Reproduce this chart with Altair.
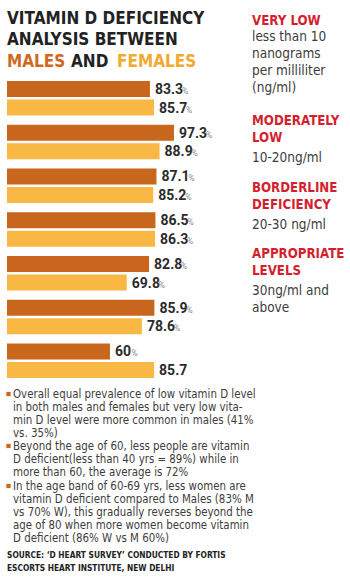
import altair as alt
import pandas as pd

# ---- data ----
groups = ["Overall", "Under 40", "40-49", "50-59", "60-69", "70-79", "80+"]
male_values = [83.3, 97.3, 87.1, 86.5, 82.8, 85.9, 60.0]
female_values = [85.7, 88.9, 85.2, 86.3, 69.8, 78.6, 85.7]
male_labels = ["83.3", "97.3", "87.1", "86.5", "82.8", "85.9", "60"]
female_labels = ["85.7", "88.9", "85.2", "86.3", "69.8", "78.6", "85.7"]
male_pct = [True, True, True, True, True, True, True]
female_pct = [True, True, True, True, True, True, False]
sexes = ["Males", "Females"]

title_lines = ["VITAMIN D DEFICIENCY", "ANALYSIS BETWEEN"]
title_parts = ["MALES", "AND", "FEMALES"]

legend_heads = ["VERY LOW", "MODERATELY\nLOW", "BORDERLINE\nDEFICIENCY", "APPROPRIATE\nLEVELS"]
legend_bodies = ["less than 10\nnanograms\nper milliliter\n(ng/ml)", "10-20ng/ml", "20-30 ng/ml", "30ng/ml and\nabove"]

bullets = [
    "Overall equal prevalence of low vitamin D level\nin both males and females but very low vita-\nmin D level were more common in males (41%\nvs. 35%)",
    "Beyond the age of 60, less people are vitamin\nD deficient(less than 40 yrs = 89%) while in\nmore than 60, the average is 72%",
    "In the age band of 60-69 yrs, less women are\nvitamin D deficient compared to Males (83% M\nvs 70% W), this gradually reverses beyond the\nage of 80 when more women become vitamin\nD deficient (86% W vs M 60%)",
]
source = "SOURCE: \u2018D HEART SURVEY\u2019 CONDUCTED BY FORTIS\nESCORTS HEART INSTITUTE, NEW DELHI"

rows = []
for i, g in enumerate(groups):
    rows.append(dict(group=g, sex="Males", value=male_values[i], label=male_labels[i], pct=male_pct[i]))
    rows.append(dict(group=g, sex="Females", value=female_values[i], label=female_labels[i], pct=female_pct[i]))
df = pd.DataFrame(rows)

MALE = "#c9661d"
FEMALE = "#f8b843"
RED = "#d41f2e"
DARK = "#222222"
GRAY = "#3d3d3d"
COND = "DejaVu Sans Condensed, sans-serif"
NUMF = "Roboto, sans-serif"

x = alt.X("value:Q", scale=alt.Scale(domain=[0, 100], range=[7, 178.6]), axis=None)
y = alt.Y("group:N", sort=groups, axis=None,
          scale=alt.Scale(range=[81, 378], paddingInner=0.21, paddingOuter=0))
yo = alt.YOffset("sex:N", sort=sexes, scale=alt.Scale(paddingInner=0.14, paddingOuter=0))
color = alt.Color("sex:N", scale=alt.Scale(domain=sexes, range=[MALE, FEMALE]), legend=None)

base = alt.Chart(df)
bars = base.mark_bar().encode(x=x, y=y, yOffset=yo, color=color)
nums = base.mark_text(align="left", baseline="middle", dx=5, dy=1, font=NUMF,
                      fontSize=14, fontWeight="bold", color="#2b2b2b").encode(
    x=x, y=y, yOffset=yo, text="label:N")
pct4 = base.transform_filter("datum.pct && length(datum.label) == 4").mark_text(
    align="left", baseline="middle", dx=32, dy=2, font=NUMF, fontSize=8.5, color="#8a8a8a").encode(
    x=x, y=y, yOffset=yo, text=alt.value("%"))
pct2 = base.transform_filter("datum.pct && length(datum.label) == 2").mark_text(
    align="left", baseline="middle", dx=21.5, dy=2, font=NUMF, fontSize=8.5, color="#8a8a8a").encode(
    x=x, y=y, yOffset=yo, text=alt.value("%"))

one = alt.Chart(pd.DataFrame({"k": [0]}))


def txt(text, px, py, size, color, weight="normal", lh=None, font=COND):
    kw = dict(align="left", baseline="alphabetic", font=font, fontSize=size,
              fontWeight=weight, color=color, lineBreak="\n")
    if lh is not None:
        kw["lineHeight"] = lh
    return one.mark_text(**kw).encode(x=alt.value(px), y=alt.value(py), text=alt.value(text))


layers = [bars, nums, pct4, pct2]
# title
layers.append(txt(title_lines[0], 7, 24, 17, DARK, "bold"))
layers.append(txt(title_lines[1], 7, 45, 17, DARK, "bold"))
layers.append(txt(title_parts[0], 7, 67, 17, "#d0691f", "bold"))
layers.append(txt(title_parts[1], 71, 67, 17, DARK, "bold"))
layers.append(txt(title_parts[2], 117, 67, 17, "#f2a92e", "bold"))

# right legend
head_y = [25, 125, 192, 258]
body_y = [41, 162, 229, 295]
for hy, by, h, b in zip(head_y, body_y, legend_heads, legend_bodies):
    layers.append(txt(h, 252, hy, 13.2, RED, "bold", lh=17))
    layers.append(txt(b, 252, by, 13.5, GRAY, lh=17))

# bullets
bullet_y = [398, 450, 490]
for by, b in zip(bullet_y, bullets):
    layers.append(one.mark_square(size=18, color=MALE, opacity=1).encode(
        x=alt.value(8.5), y=alt.value(by - 4)))
    layers.append(txt(b, 13, by, 11.4, GRAY, lh=13))

layers.append(txt(source, 7, 558, 8.3, DARK, "bold", lh=13))

chart = alt.layer(*layers).properties(
    width=350, height=583, padding=0, autosize=alt.AutoSizeParams(type="none"),
    background="white"
).configure_view(stroke=None)

chart.save("out.html", embed_options={"renderer": "svg", "actions": False})
